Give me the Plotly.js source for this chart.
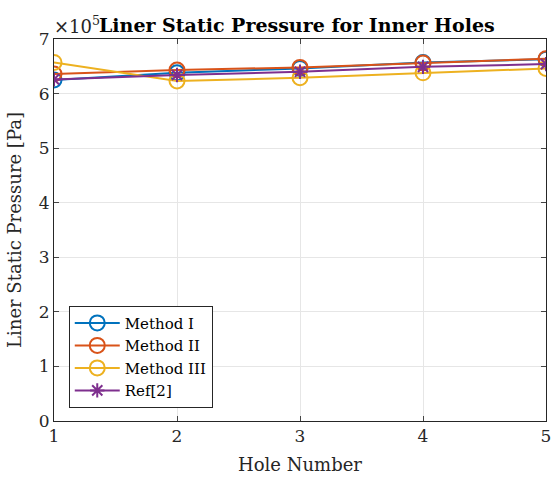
<!DOCTYPE html>
<html><head><meta charset="utf-8">
<script src="https://cdn.plot.ly/plotly-3.0.1.min.js"></script>
<style>html,body{margin:0;padding:0;background:#fff}</style>
</head><body><div id="chart" style="width:551px;height:482px"></div>
<script>
var holes = [1, 2, 3, 4, 5];
var method1 = [6.25e5, 6.38e5, 6.46e5, 6.57e5, 6.63e5];
var method2 = [6.36e5, 6.43e5, 6.48e5, 6.56e5, 6.64e5];
var method3 = [6.57e5, 6.23e5, 6.29e5, 6.38e5, 6.46e5];
var ref2 = [6.26e5, 6.34e5, 6.40e5, 6.49e5, 6.54e5];
var yTickVals = [0, 1e5, 2e5, 3e5, 4e5, 5e5, 6e5, 7e5];
var yTickText = ['0','1','2','3','4','5','6','7'];
var font = 'DejaVu Serif, Liberation Serif, serif';
function tr(name, y, color, sym, msize){
  return {x: holes, y: y, name: name, type: 'scatter', mode: 'lines+markers',
    line: {color: color, width: 2},
    marker: {symbol: sym, size: msize, color: color, line: {color: color, width: 2}}};
}
var data = [
  tr('Method I', method1, '#0072BD', 'circle-open', 15),
  tr('Method II', method2, '#D95319', 'circle-open', 15),
  tr('Method III', method3, '#EDB120', 'circle-open', 15),
  tr('Ref[2]', ref2, '#7E2F8E', 'asterisk-open', 12)
];
var layout = {
  width: 551, height: 482,
  margin: {l: 54, r: 5, t: 39, b: 61},
  paper_bgcolor: '#fff', plot_bgcolor: '#fff',
  font: {family: font, size: 17, color: '#262626'},
  showlegend: true,
  legend: {x: 0.03, y: 0.035, xanchor: 'left', yanchor: 'bottom',
    bgcolor: '#fff', bordercolor: '#262626', borderwidth: 1, itemwidth: 45,
    font: {family: font, size: 15, color: '#000'}, tracegroupgap: 0},
  xaxis: {range: [1, 5], tickvals: holes, ticks: 'inside', ticklen: 5,
    ticklabeloverflow: 'allow',
    showline: true, mirror: 'ticks', linecolor: '#262626', linewidth: 1,
    showgrid: true, gridcolor: '#e6e6e6', zeroline: false,
    tickfont: {family: font, size: 17, color: '#262626'},
    title: {text: 'Hole Number', font: {family: font, size: 18, color: '#262626'}, standoff: 12}},
  yaxis: {range: [0, 7e5], tickvals: yTickVals, ticktext: yTickText, ticks: 'inside', ticklen: 5,
    ticklabeloverflow: 'allow',
    showline: true, mirror: 'ticks', linecolor: '#262626', linewidth: 1,
    showgrid: true, gridcolor: '#e6e6e6', zeroline: false,
    tickfont: {family: font, size: 17, color: '#262626'},
    title: {text: 'Liner Static Pressure [Pa]', font: {family: font, size: 18, color: '#262626'}, standoff: 12}},
  annotations: [
    {text: '×10<sup>5</sup>', xref: 'paper', yref: 'paper', x: 0, y: 1, xanchor: 'left', yanchor: 'bottom',
     showarrow: false, font: {family: font, size: 18, color: '#262626'}, xshift: -2, yshift: 0},
    {text: '<b>Liner Static Pressure for Inner Holes</b>', xref: 'paper', yref: 'paper', x: 0.494, y: 1,
     xanchor: 'center', yanchor: 'bottom', showarrow: false, yshift: 1,
     font: {family: font, size: 19, color: '#000'}}
  ]
};
Plotly.newPlot('chart', data, layout, {displayModeBar: false});
</script></body></html>
